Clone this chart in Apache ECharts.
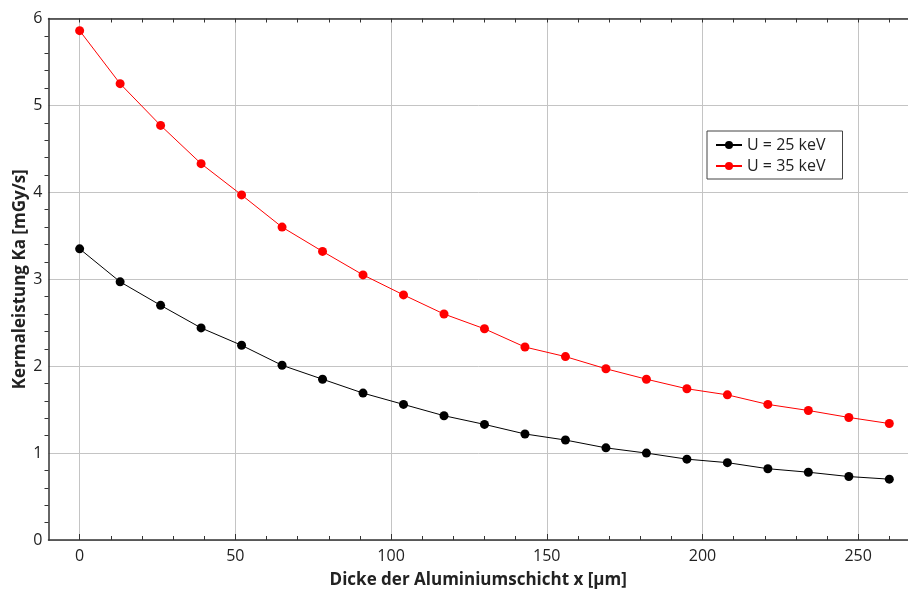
<!DOCTYPE html>
<html>
<head>
<meta charset="utf-8">
<script src="https://cdn.jsdelivr.net/npm/echarts@6/dist/echarts.min.js"></script>
<style>
  html, body { margin: 0; padding: 0; background: #fff; }
  #chart { width: 908px; height: 590px; }
</style>
</head>
<body>
<div id="chart"></div>
<script>
  // Dicke in µm
  const thickness = [0, 13, 26, 39, 52, 65, 78, 91, 104, 117, 130, 143, 156, 169, 182, 195, 208, 221, 234, 247, 260];
  const ka25 = [3.35, 2.97, 2.70, 2.44, 2.24, 2.01, 1.85, 1.69, 1.56, 1.43, 1.33, 1.22, 1.15, 1.06, 1.00, 0.93, 0.89, 0.82, 0.78, 0.73, 0.70];
  const ka35 = [5.86, 5.25, 4.77, 4.33, 3.97, 3.60, 3.32, 3.05, 2.82, 2.60, 2.43, 2.22, 2.11, 1.97, 1.85, 1.74, 1.67, 1.56, 1.49, 1.41, 1.34];
  const xMajor = [0, 50, 100, 150, 200, 250];
  const xMinor = [0, 10, 20, 30, 40, 50, 60, 70, 80, 90, 100, 110, 120, 130, 140, 150, 160, 170, 180, 190, 200, 210, 220, 230, 240, 250, 260];

  const FONT = '"Open Sans", "DejaVu Sans", sans-serif';
  const AXIS_COLOR = '#333';
  const GRID_COLOR = '#c4c4c4';

  const pairs = (ys) => thickness.map((x, i) => [x, ys[i]]);

  let myChart = echarts.init(document.getElementById('chart'));
  let option = {
    animation: false,
    grid: { left: 48.5, top: 18.5, right: 0, bottom: 50, containLabel: false, outerBoundsMode: 'none' },
    legend: {
      orient: 'vertical',
      left: 707,
      top: 131,
      padding: [6, 17, 5, 8],
      itemGap: 5,
      itemWidth: 26,
      itemHeight: 10,
      borderColor: '#444',
      borderWidth: 1,
      borderRadius: 0,
      backgroundColor: '#fff',
      textStyle: { fontFamily: FONT, fontSize: 16, color: '#222' },
      data: ['U = 25 keV', 'U = 35 keV']
    },
    xAxis: [
      {
        type: 'value',
        min: -10,
        max: 266,
        name: 'Dicke der Aluminiumschicht x [µm]',
        nameLocation: 'middle',
        nameGap: 32,
        nameTextStyle: { fontFamily: FONT, fontSize: 17, fontWeight: 'bold', color: '#222' },
        axisLine: { onZero: false, lineStyle: { color: AXIS_COLOR, width: 1.5 } },
        axisTick: { inside: true, length: 6, customValues: xMajor, lineStyle: { color: AXIS_COLOR } },
        axisLabel: { customValues: xMajor, fontFamily: FONT, fontSize: 16, color: '#222', margin: 8 },
        splitLine: { show: true, lineStyle: { color: GRID_COLOR, width: 1 } }
      },
      {
        // kleine Ticks unten
        type: 'value',
        min: -10,
        max: 266,
        position: 'bottom',
        axisLine: { show: false },
        axisTick: { inside: true, length: 4, customValues: xMinor, lineStyle: { color: AXIS_COLOR } },
        axisLabel: { show: false },
        splitLine: { show: false }
      },
      {
        // oberer Rahmen mit Ticks
        type: 'value',
        min: -10,
        max: 266,
        position: 'top',
        axisLine: { show: true, onZero: false, lineStyle: { color: AXIS_COLOR, width: 1.5 } },
        axisTick: { inside: true, length: 4, customValues: xMinor, lineStyle: { color: AXIS_COLOR } },
        axisLabel: { show: false },
        splitLine: { show: false }
      }
    ],
    yAxis: {
      type: 'value',
      min: 0,
      max: 6,
      interval: 1,
      name: 'Kermaleistung Ka [mGy/s]',
      nameLocation: 'middle',
      nameGap: 20,
      nameMoveOverlap: false,
      nameTextStyle: { fontFamily: FONT, fontSize: 17, fontWeight: 'bold', color: '#222' },
      axisLine: { show: true, onZero: false, lineStyle: { color: AXIS_COLOR, width: 1.5 } },
      axisTick: { show: false },
      minorTick: { show: true, splitNumber: 5, length: 4, inside: true, lineStyle: { color: AXIS_COLOR } },
      axisLabel: { fontFamily: FONT, fontSize: 16, color: '#222', margin: 6 },
      splitLine: { show: true, lineStyle: { color: GRID_COLOR, width: 1 } }
    },
    series: [
      {
        name: 'U = 25 keV',
        type: 'line',
        data: pairs(ka25),
        symbol: 'circle',
        symbolSize: 9,
        itemStyle: { color: '#000' },
        lineStyle: { color: '#000', width: 1 }
      },
      {
        name: 'U = 35 keV',
        type: 'line',
        data: pairs(ka35),
        symbol: 'circle',
        symbolSize: 9,
        itemStyle: { color: '#ff0000' },
        lineStyle: { color: '#ff0000', width: 1 }
      }
    ]
  };
  option && myChart.setOption(option);
</script>
</body>
</html>
